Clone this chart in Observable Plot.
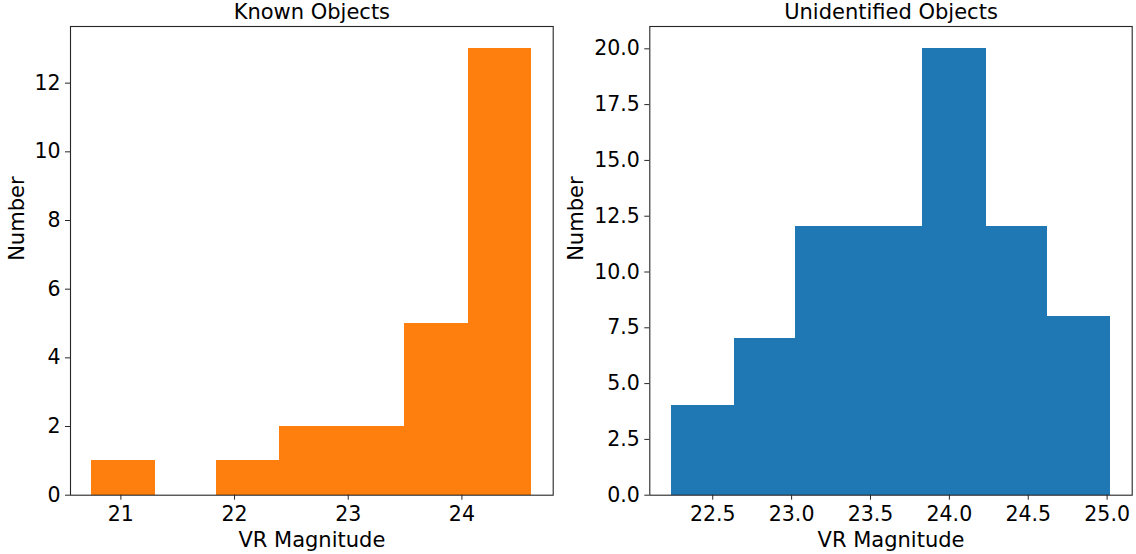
<!DOCTYPE html>
<html><head><meta charset="utf-8">
<script src="https://cdn.jsdelivr.net/npm/d3@7"></script>
<script src="https://cdn.jsdelivr.net/npm/@observablehq/plot@0.6"></script>
<style>
body{margin:0;background:#fff;}
#wrap{display:flex;width:1136px;height:554px;}
#wrap svg{display:block;}
</style></head><body><div id="wrap"></div>
<script>
// Known Objects histogram
const knownEdges = [20.75, 21.30, 21.85, 22.40, 22.95, 23.50, 24.06, 24.61];
const knownCounts = [1, 0, 1, 2, 2, 5, 13];
const knownXTicks = [21, 22, 23, 24];
const knownYTicks = [0, 2, 4, 6, 8, 10, 12];
// Unidentified Objects histogram
const unknownEdges = [22.24, 22.64, 23.03, 23.43, 23.83, 24.23, 24.62, 25.02];
const unknownCounts = [4, 7, 12, 12, 20, 12, 8];
const unknownXTicks = [22.5, 23.0, 23.5, 24.0, 24.5, 25.0];
const unknownYTicks = [0, 2.5, 5, 7.5, 10, 12.5, 15, 17.5, 20];

const titles = ["Known Objects", "Unidentified Objects"];
const xLabel = "VR Magnitude";
const yLabel = "Number";

function panel({edges, counts, color, xTicks, yTicks, fmtX, fmtY, title, width, marginLeft, marginRight, yLabelDx}) {
  const bins = counts.map((c, i) => ({x1: edges[i], x2: edges[i + 1], y: c}));
  const lo = edges[0], hi = edges[edges.length - 1], pad = (hi - lo) * 0.05;
  const ymax = d3.max(counts) * 1.05;
  return Plot.plot({
    width, height: 554,
    marginTop: 26, marginBottom: 59.3, marginLeft, marginRight,
    style: {fontFamily: "DejaVu Sans", fontSize: "20.5px", color: "#000", background: "#fff", overflow: "visible"},
    x: {domain: [lo - pad, hi + pad]},
    y: {domain: [0, ymax]},
    marks: [
      Plot.rectY(bins, {x1: "x1", x2: "x2", y: "y", fill: color, stroke: color, strokeWidth: 1, shapeRendering: "crispEdges"}),
      Plot.frame({stroke: "#262626", strokeWidth: 1.1}),
      Plot.axisX({ticks: xTicks, tickFormat: fmtX, tickSize: 5, tickPadding: 6, label: null, stroke: "#262626"}),
      Plot.axisY({ticks: yTicks, tickFormat: fmtY, tickSize: 5, tickPadding: 5, label: null, stroke: "#262626"}),
      Plot.text([title], {frameAnchor: "top", lineAnchor: "middle", dy: -14.3, fontSize: 21, fill: "#000"}),
      Plot.text([xLabel], {frameAnchor: "bottom", lineAnchor: "middle", dy: 44.6, fontSize: 21, fill: "#000"}),
      Plot.text([yLabel], {frameAnchor: "left", lineAnchor: "middle", dx: yLabelDx, rotate: -90, fontSize: 21, fill: "#000"})
    ]
  });
}

const wrap = document.getElementById("wrap");
wrap.appendChild(panel({
  edges: knownEdges, counts: knownCounts, color: "#ff7f0e",
  xTicks: knownXTicks, yTicks: knownYTicks,
  fmtX: d3.format("d"), fmtY: d3.format("d"),
  title: titles[0], width: 560, marginLeft: 70, marginRight: 7.3, yLabelDx: -53.3
}));
wrap.appendChild(panel({
  edges: unknownEdges, counts: unknownCounts, color: "#1f77b4",
  xTicks: unknownXTicks, yTicks: unknownYTicks,
  fmtX: d3.format(".1f"), fmtY: d3.format(".1f"),
  title: titles[1], width: 576, marginLeft: 89.3, marginRight: 4.3, yLabelDx: -74
}));
</script>
</body></html>
